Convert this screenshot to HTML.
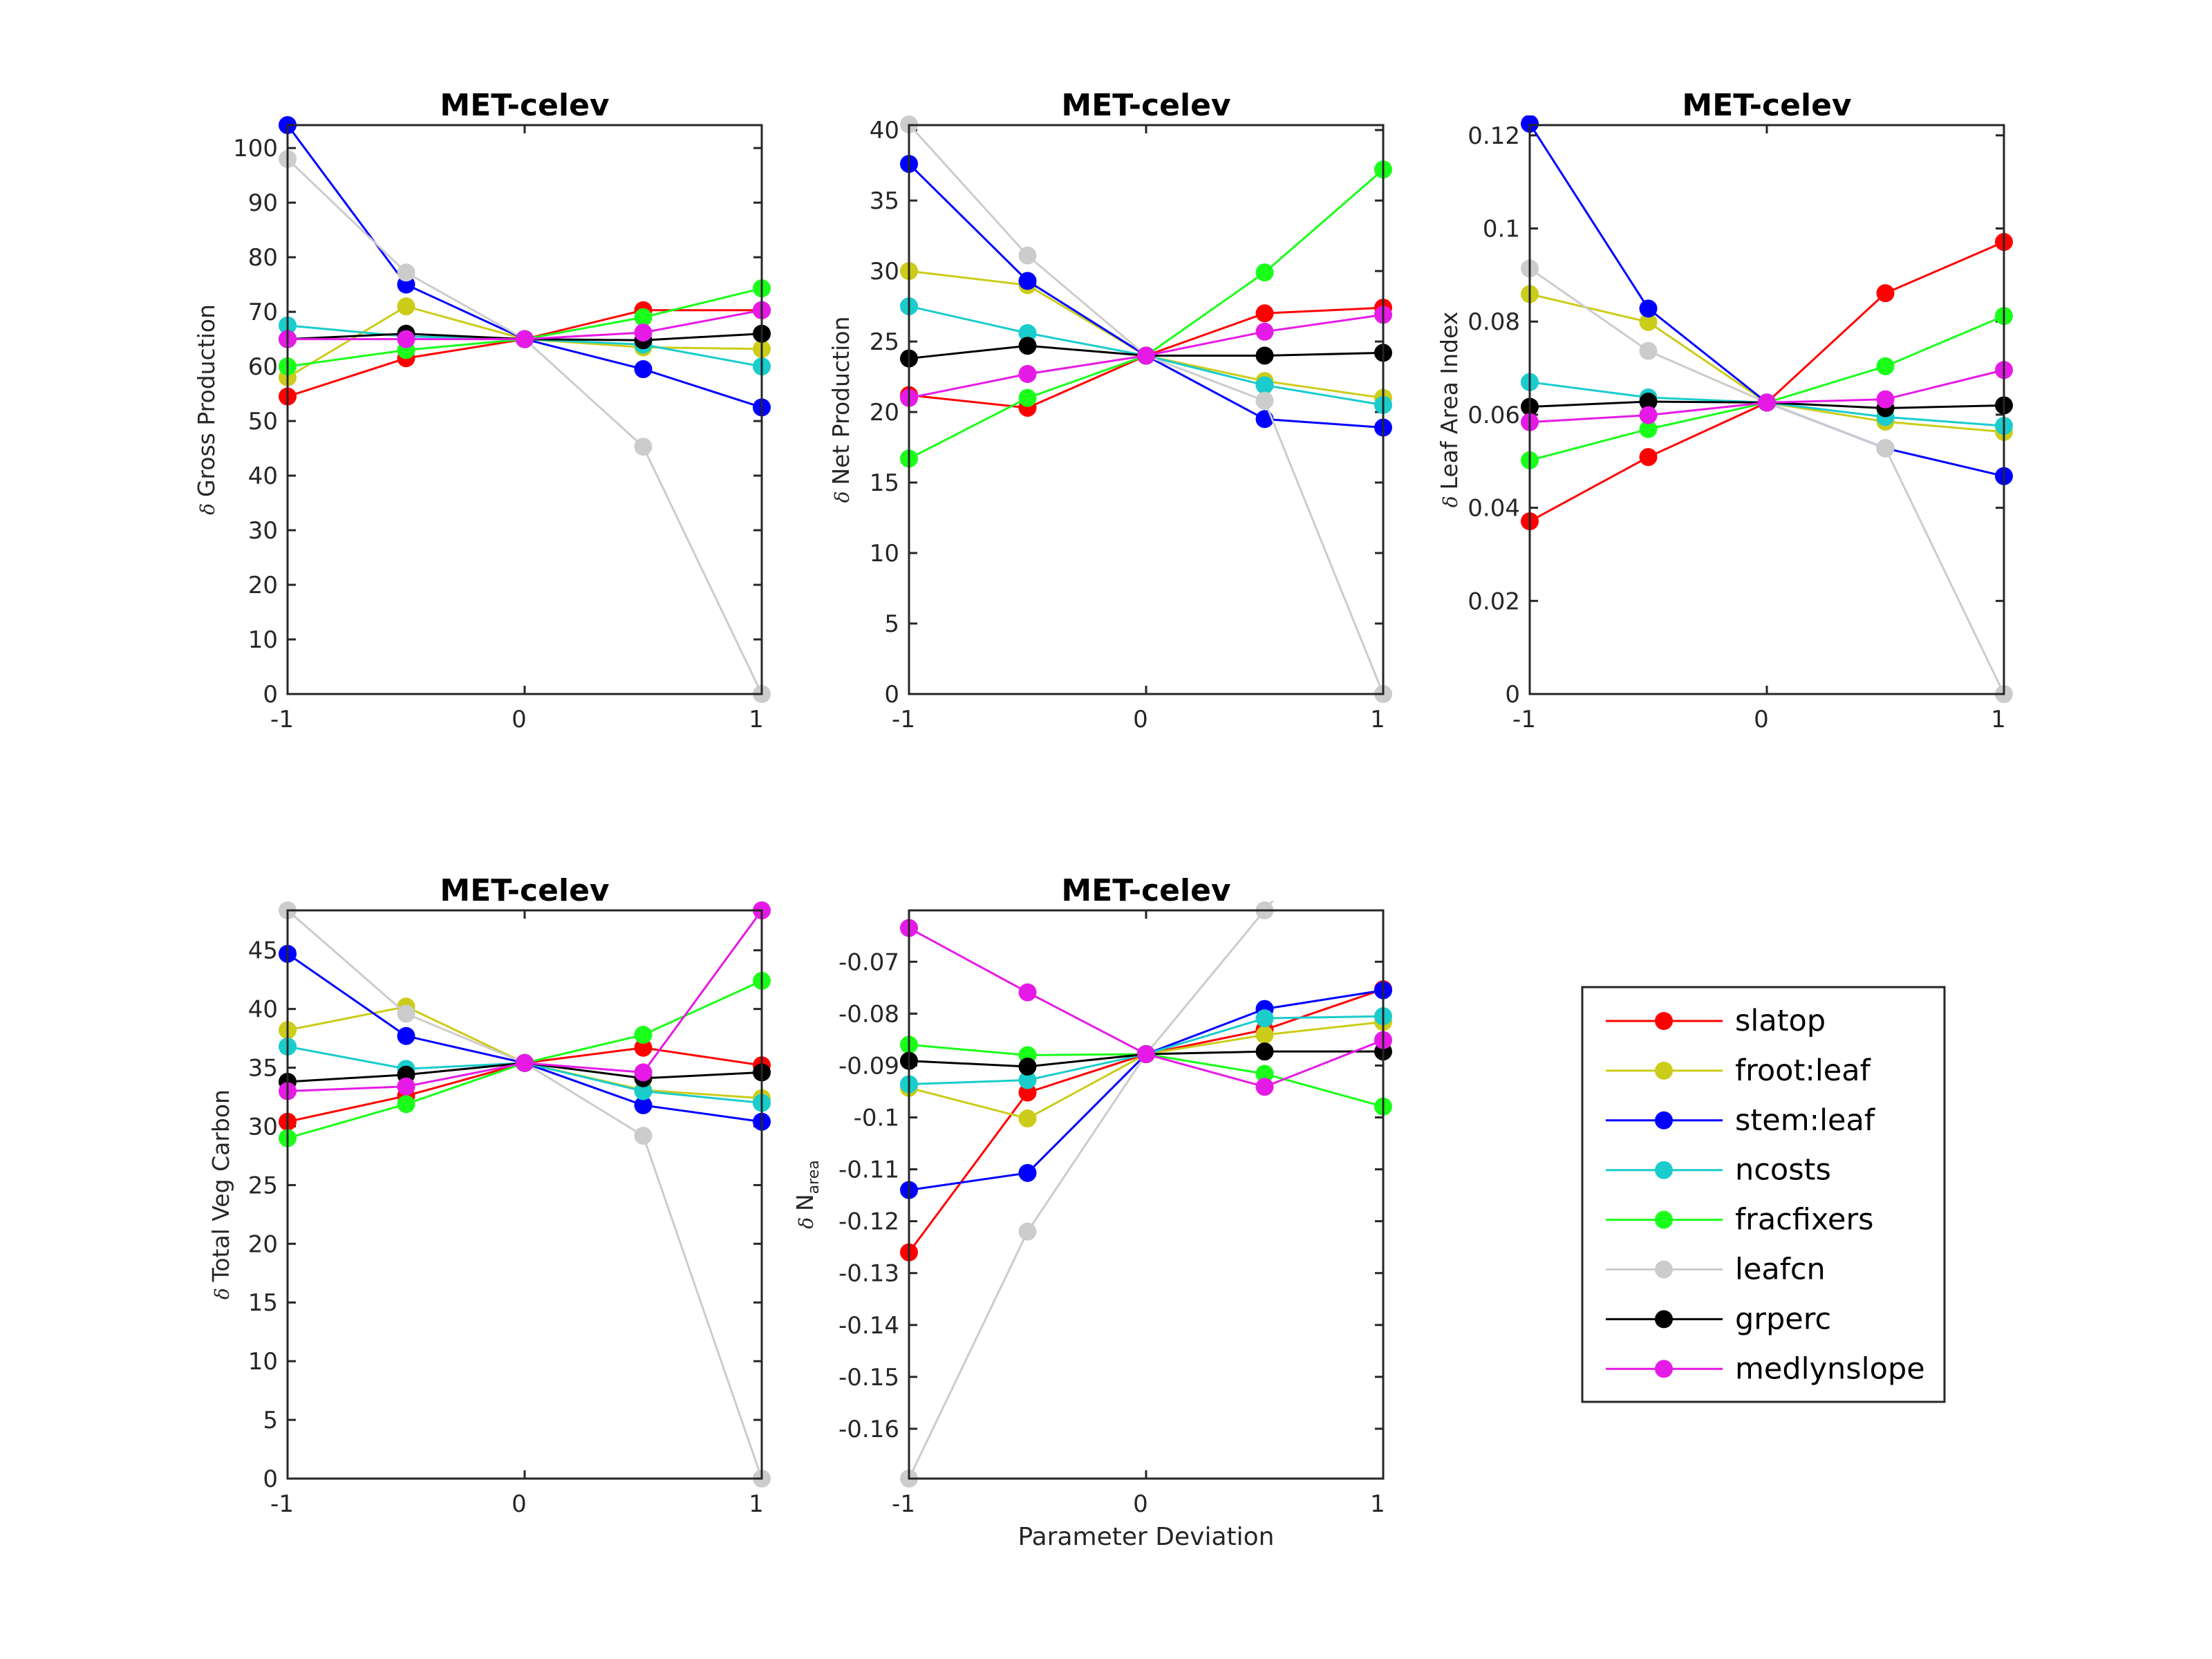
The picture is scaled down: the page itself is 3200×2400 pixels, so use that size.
<!DOCTYPE html>
<html><head><meta charset="utf-8"><style>
html,body{margin:0;padding:0;background:#fff;}
svg{display:block;font-family:"DejaVu Sans","Liberation Sans",sans-serif;}
</style></head><body>
<svg id="fig" width="3200" height="2400" viewBox="0 0 3200 2400"></svg>
<script>
const xVals = [-1, -0.5, 0, 0.5, 1];
const seriesNames = ["slatop","froot:leaf","stem:leaf","ncosts","fracfixers","leafcn","grperc","medlynslope"];
const seriesColors = ["#ff0000","#cccc1a","#0000ff","#1acccc","#1aff1a","#cccccc","#000000","#e61ae6"];

const gppData = [
 [54.5,61.5,65,70.3,70.3],[58,71,65,63.5,63.2],[104.2,75,65,59.5,52.5],[67.5,65.5,65,64,60],
 [60,63,65,69,74.3],[98,77.2,65,45.3,0],[65,66,65,64.8,66],[65,65,65,66.2,70.3]];
const nppData = [
 [21.2,20.3,24,27,27.4],[30,29,24,22.2,21],[37.6,29.3,24,19.5,18.9],[27.5,25.6,24,21.9,20.5],
 [16.7,21,24,29.9,37.2],[40.4,31.1,24,20.8,0],[23.8,24.7,24,24,24.2],[21,22.7,24,25.7,26.9]];
const laiData = [
 [0.0371,0.0509,0.0626,0.0861,0.0971],[0.0859,0.0799,0.0626,0.0585,0.0563],[0.1225,0.0828,0.0626,0.0528,0.0468],
 [0.0670,0.0637,0.0626,0.0595,0.0576],[0.0502,0.0569,0.0626,0.0704,0.0812],[0.0914,0.0737,0.0626,0.0528,0],
 [0.0617,0.0628,0.0626,0.0614,0.0620],[0.0584,0.0599,0.0626,0.0633,0.0696]];
const tvcData = [
 [30.4,32.6,35.4,36.7,35.2],[38.2,40.2,35.4,33.1,32.4],[44.7,37.7,35.4,31.8,30.4],[36.8,34.9,35.4,33.0,32.0],
 [29.0,31.9,35.4,37.8,42.4],[48.4,39.6,35.4,29.2,0],[33.8,34.4,35.4,34.1,34.6],[33.0,33.4,35.4,34.6,48.4]];
const nareaData = [
 [-0.1260,-0.0952,-0.0878,-0.0831,-0.0753],[-0.0943,-0.1002,-0.0878,-0.0841,-0.0816],[-0.1140,-0.1107,-0.0878,-0.0791,-0.0755],
 [-0.0936,-0.0928,-0.0878,-0.0809,-0.0805],[-0.0860,-0.0880,-0.0878,-0.0916,-0.0979],[-0.1696,-0.1220,-0.0878,-0.0601,-0.033],
 [-0.0891,-0.0902,-0.0878,-0.0873,-0.0873],[-0.0635,-0.0759,-0.0878,-0.0941,-0.0851]];

const gppTicks = [0,10,20,30,40,50,60,70,80,90,100];
const nppTicks = [0,5,10,15,20,25,30,35,40];
const laiTicks = [0,0.02,0.04,0.06,0.08,0.1,0.12];
const laiTickLabels = ["0","0.02","0.04","0.06","0.08","0.1","0.12"];
const tvcTicks = [0,5,10,15,20,25,30,35,40,45];
const nareaTicks = [-0.16,-0.15,-0.14,-0.13,-0.12,-0.11,-0.1,-0.09,-0.08,-0.07];
const nareaTickLabels = ["-0.16","-0.15","-0.14","-0.13","-0.12","-0.11","-0.1","-0.09","-0.08","-0.07"];
const xTicks = [-1,0,1];
const xTickLabels = ["-1","0","1"];

const NS = "http://www.w3.org/2000/svg";
const svg = document.getElementById("fig");
function mk(tag, attrs, parent){
  const e = document.createElementNS(NS, tag);
  for (const k in attrs) e.setAttribute(k, attrs[k]);
  (parent||svg).appendChild(e); return e;
}
const AX = "#262626";
function panel(id, L, T, W, H, ymin, ymax, data, ticks, tickLabels, ylabel, ylabelX, isNarea){
  const g = mk("g", {});
  
  
  const sx = v => L + (v + 1) / 2 * W;
  const sy = v => T + H - (v - ymin) / (ymax - ymin) * H;
  const clip = mk("clipPath", {id: "clip-" + id}, g);
  mk("rect", {x: L-14, y: T-14, width: W+28, height: H+28}, clip);
  ticks.forEach((t, i) => {
    const y = sy(t);
    mk("line", {x1: L, x2: L+12, y1: y, y2: y, stroke: AX, "stroke-width": 3}, g);
    mk("line", {x1: L+W-12, x2: L+W, y1: y, y2: y, stroke: AX, "stroke-width": 3}, g);
    const tx = mk("text", {x: L-14, y: y+12, "text-anchor": "end", "font-size": 34, fill: AX}, g);
    
    
    tx.textContent = tickLabels ? tickLabels[i] : String(t);
  });
  xTicks.forEach((t, i) => {
    const x = sx(t);
    mk("line", {x1: x, x2: x, y1: T+H, y2: T+H-12, stroke: AX, "stroke-width": 3}, g);
    mk("line", {x1: x, x2: x, y1: T, y2: T+12, stroke: AX, "stroke-width": 3}, g);
    const tx = mk("text", {x: x - 8, y: T+H+48, "text-anchor": "middle", "font-size": 34, fill: AX}, g);
    
    
    tx.textContent = xTickLabels[i];
  });
  const sg = mk("g", {"clip-path": "url(#clip-" + id + ")"}, g);
  data.forEach((ser, si) => {
    const pts = ser.map((v, k) => sx(xVals[k]) + "," + sy(v)).join(" ");
    const pl = mk("polyline", {points: pts, fill: "none", stroke: seriesColors[si], "stroke-width": 3}, sg);
    
    
    ser.forEach((v, k) => {
      const c = mk("circle", {cx: sx(xVals[k]), cy: sy(v), r: 13, fill: seriesColors[si]}, sg);
      
      
    });
  });
  const box = mk("rect", {x: L, y: T, width: W, height: H, fill: "none", stroke: AX, "stroke-width": 3}, g);
  
  
  const ti = mk("text", {x: L+W/2, y: T-14, "text-anchor": "middle", "font-size": 44, "font-weight": "bold", fill: "#000"}, g);
  
  
  ti.textContent = "MET-celev";
  const cy = T + H/2;
  const yl = mk("text", {x: ylabelX, y: cy, "text-anchor": "middle", "font-size": 33, fill: AX, transform: "rotate(-90 " + ylabelX + " " + cy + ")"}, g);
  
  
  const d = mk("tspan", {"font-style": "italic", "font-family": "DejaVu Serif, serif", "font-size": 28}, yl);
  d.textContent = "δ ";
  const r = mk("tspan", {}, yl);
  r.textContent = ylabel;
  if (isNarea) {
    const sub = mk("tspan", {"font-size": 22, dy: 8}, yl);
    sub.textContent = "area";
  }
}
const C = [416, 1315, 2213], W = 686;
const R = [181, 1317], H1 = 823, H2 = 822;
panel("gpp", C[0], R[0], W, H1, 0, 104.2, gppData, gppTicks, null, "Gross Production", 310, false);
panel("npp", C[1], R[0], W, H1, 0, 40.35, nppData, nppTicks, null, "Net Production", 1228, false);
panel("lai", C[2], R[0], W, H1, 0, 0.1222, laiData, laiTicks, laiTickLabels, "Leaf Area Index", 2108, false);
panel("tvc", C[0], R[1], W, H2, 0, 48.4, tvcData, tvcTicks, null, "Total Veg Carbon", 331, false);
panel("narea", C[1], R[1], W, H2, -0.1696, -0.0601, nareaData, nareaTicks, nareaTickLabels, "N", 1176, true);

const xl = mk("text", {x: C[1]+W/2, y: 2249, "text-anchor": "middle", "font-size": 36, fill: AX});


xl.setAttribute('y', '2249');
xl.setAttribute('dy', '-14');
xl.textContent = "Parameter Deviation";

const lg = mk("g", {});


mk("rect", {x: 2289, y: 1428, width: 524, height: 600, fill: "#fff", stroke: AX, "stroke-width": 3}, lg);
seriesNames.forEach((n, i) => {
  const y = 1477 + i * 71.9;
  const e = mk("g", {}, lg);
  
  
  mk("line", {x1: 2323, x2: 2492, y1: y, y2: y, stroke: seriesColors[i], "stroke-width": 3}, e);
  mk("circle", {cx: 2407, cy: y, r: 13, fill: seriesColors[i]}, e);
  const t = mk("text", {x: 2510, y: y + 14, "font-size": 43, fill: "#000"}, e);
  t.textContent = n;
});
</script>
</body></html>
